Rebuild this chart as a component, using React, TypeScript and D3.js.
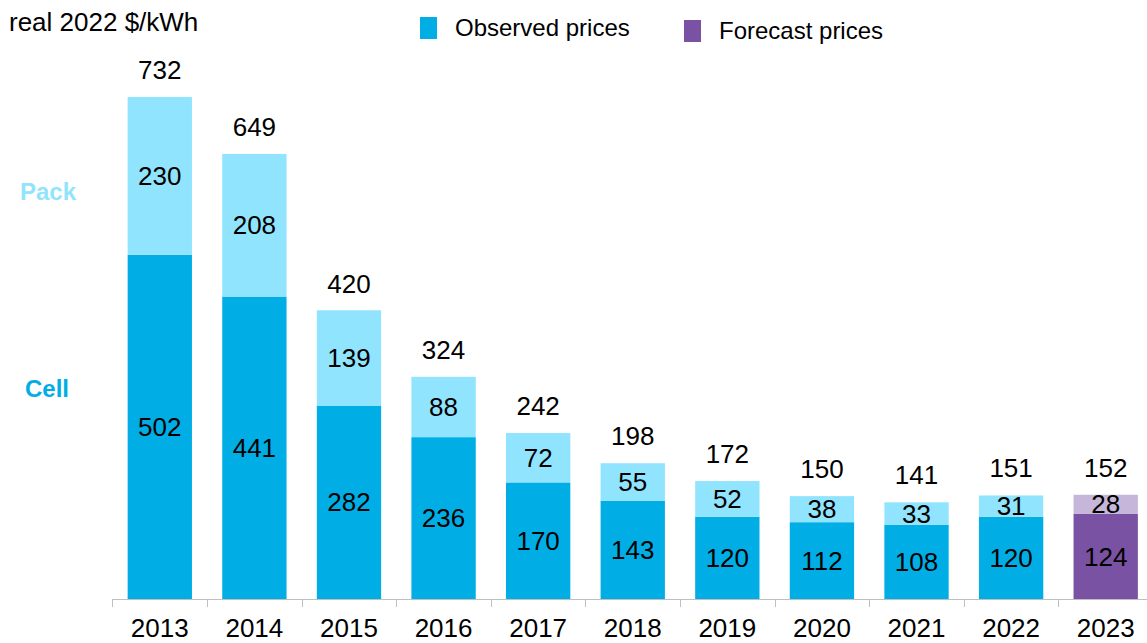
import { useEffect, useRef } from 'react';
import * as d3 from 'd3';

const years = ['2013', '2014', '2015', '2016', '2017', '2018', '2019', '2020', '2021', '2022', '2023'];
const cellPrices = [502, 441, 282, 236, 170, 143, 120, 112, 108, 120, 124];
const packPrices = [230, 208, 139, 88, 72, 55, 52, 38, 33, 31, 28];
const totalPrices = [732, 649, 420, 324, 242, 198, 172, 150, 141, 151, 152];
const forecastYears = ['2023'];

const FONT = '"Liberation Sans", Arial, sans-serif';

const App = () => {
  const ref = useRef<SVGSVGElement>(null);

  useEffect(() => {
    const svg = d3.select(ref.current);
    svg.selectAll('*').remove();

    const width = 1147;
    const height = 643;
    const baseY = 599;

    // band scale; ticks sit between categories
    const x = d3
      .scaleBand()
      .domain(years)
      .range([112.5, 1153])
      .paddingInner(0.32)
      .paddingOuter(0.16);

    const y = d3.scaleLinear().domain([0, 732]).range([baseY, 97]);

    const colors = {
      cell: '#00aee5',
      pack: '#91e4fd',
      fcCell: '#7952a3',
      fcPack: '#c6b6da',
    };

    const rows = years.map((yr, i) => ({
      year: yr,
      cell: cellPrices[i],
      pack: packPrices[i],
      total: totalPrices[i],
      forecast: forecastYears.includes(yr),
    }));

    const g = svg.append('g');

    // cell segment
    g.selectAll('.cell')
      .data(rows)
      .enter()
      .append('rect')
      .attr('x', d => x(d.year)!)
      .attr('width', x.bandwidth())
      .attr('y', d => y(d.cell))
      .attr('height', d => baseY - y(d.cell))
      .attr('fill', d => (d.forecast ? colors.fcCell : colors.cell));

    // pack segment
    g.selectAll('.pack')
      .data(rows)
      .enter()
      .append('rect')
      .attr('x', d => x(d.year)!)
      .attr('width', x.bandwidth())
      .attr('y', d => y(d.cell + d.pack))
      .attr('height', d => y(d.cell) - y(d.cell + d.pack))
      .attr('fill', d => (d.forecast ? colors.fcPack : colors.pack));

    const cx = (d: { year: string }) => x(d.year)! + x.bandwidth() / 2;

    // labels
    g.selectAll('.lcell')
      .data(rows)
      .enter()
      .append('text')
      .attr('x', cx)
      .attr('y', d => (y(0) + y(d.cell)) / 2)
      .attr('dy', '0.35em')
      .text(d => d.cell);

    g.selectAll('.lpack')
      .data(rows)
      .enter()
      .append('text')
      .attr('x', cx)
      .attr('y', d => (y(d.cell) + y(d.cell + d.pack)) / 2)
      .attr('dy', '0.35em')
      .text(d => d.pack);

    g.selectAll('.ltotal')
      .data(rows)
      .enter()
      .append('text')
      .attr('x', cx)
      .attr('y', d => y(d.total) - 18)
      .text(d => d.total);

    g.selectAll('text')
      .attr('text-anchor', 'middle')
      .attr('font-family', FONT)
      .attr('font-size', 26)
      .attr('fill', '#000');

    // x axis
    const axis = svg.append('g');
    axis
      .append('line')
      .attr('x1', 112.5)
      .attr('x2', width)
      .attr('y1', baseY + 0.5)
      .attr('y2', baseY + 0.5)
      .attr('stroke', '#bfbfbf')
      .attr('stroke-width', 1);

    const step = x.step();
    const tickXs = years.map(yr => x(yr)! - (step * x.paddingInner()) / 2);
    axis
      .selectAll('.tick')
      .data(tickXs)
      .enter()
      .append('line')
      .attr('x1', d => Math.round(d) + 0.5)
      .attr('x2', d => Math.round(d) + 0.5)
      .attr('y1', baseY)
      .attr('y2', baseY + 8)
      .attr('stroke', '#bfbfbf');

    axis
      .selectAll('.yl')
      .data(years)
      .enter()
      .append('text')
      .attr('x', d => x(d)! + x.bandwidth() / 2)
      .attr('y', 637)
      .attr('text-anchor', 'middle')
      .attr('font-family', FONT)
      .attr('font-size', 26)
      .attr('fill', '#000')
      .text(d => d);

    // unit title
    svg
      .append('text')
      .attr('x', 9)
      .attr('y', 31)
      .attr('font-family', FONT)
      .attr('font-size', 26)
      .attr('fill', '#000')
      .text('real 2022 $/kWh');

    // side labels
    svg
      .append('text')
      .attr('x', 20)
      .attr('y', 192)
      .attr('dy', '0.35em')
      .attr('font-family', FONT)
      .attr('font-size', 24)
      .attr('font-weight', 'bold')
      .attr('fill', colors.pack)
      .text('Pack');

    svg
      .append('text')
      .attr('x', 25)
      .attr('y', 389)
      .attr('dy', '0.35em')
      .attr('font-family', FONT)
      .attr('font-size', 24)
      .attr('font-weight', 'bold')
      .attr('fill', colors.cell)
      .text('Cell');

    // legend
    const legend = [
      { label: 'Observed prices', color: colors.cell, x: 420, y: 17 },
      { label: 'Forecast prices', color: colors.fcCell, x: 684, y: 20 },
    ];
    const lg = svg
      .selectAll('.legend')
      .data(legend)
      .enter()
      .append('g')
      .attr('transform', d => `translate(${d.x},${d.y})`);
    lg.append('rect').attr('width', 17).attr('height', 22).attr('fill', d => d.color);
    lg.append('text')
      .attr('x', 35)
      .attr('y', 11)
      .attr('dy', '0.35em')
      .attr('font-family', FONT)
      .attr('font-size', 24)
      .attr('fill', '#000')
      .text(d => d.label);

    svg.attr('width', width).attr('height', height);
  }, []);

  return (
    <svg
      ref={ref}
      width={1147}
      height={643}
      style={{ position: 'absolute', left: 0, top: 0, background: '#fff' }}
    />
  );
};

export default App;
